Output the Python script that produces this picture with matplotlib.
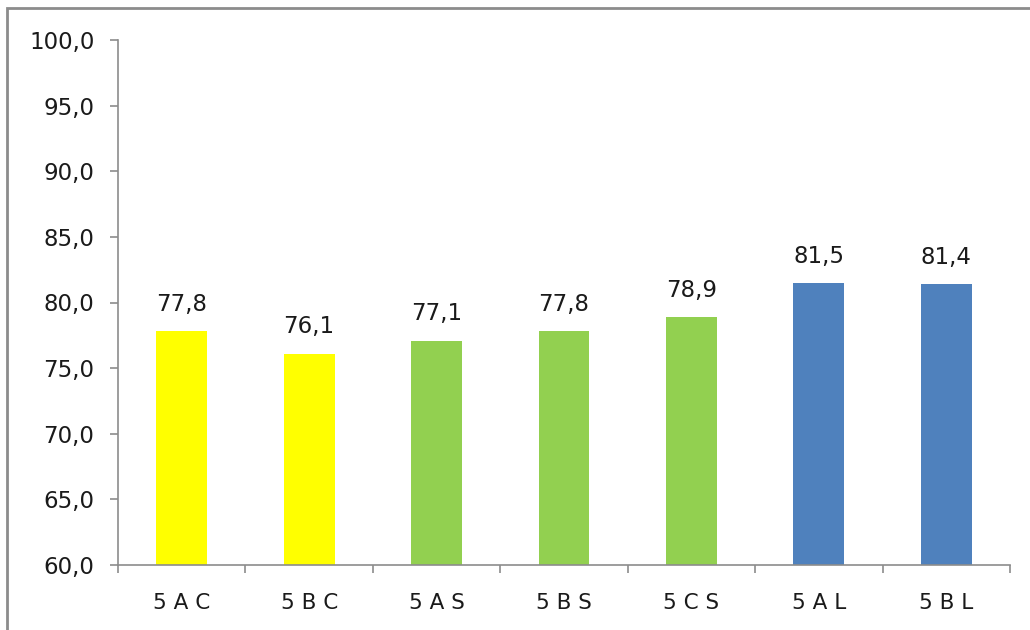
import numpy as np
import matplotlib
matplotlib.use("Agg")
import matplotlib.pyplot as plt
from matplotlib.patches import Rectangle

# Données
categories = ["5 A C", "5 B C", "5 A S", "5 B S", "5 C S", "5 A L", "5 B L"]
valeurs = [77.8, 76.1, 77.1, 77.8, 78.9, 81.5, 81.4]
couleurs = ["#FFFF00", "#FFFF00", "#92D050", "#92D050", "#92D050", "#4F81BD", "#4F81BD"]
yticks = [60, 65, 70, 75, 80, 85, 90, 95, 100]

plt.rcParams['font.family'] = ['DejaVu Sans']

fig = plt.figure(figsize=(10.3, 6.3), dpi=100)
ax = fig.add_axes([118 / 1030, 1 - 565 / 630, (1010 - 118) / 1030, (565 - 40) / 630])

x = np.arange(len(categories))
ax.bar(x, [v - 60 for v in valeurs], bottom=60, width=0.4, color=couleurs)

# Etiquettes de valeur
for xi, v in zip(x, valeurs):
    ax.annotate(f"{v:.1f}".replace(".", ","), (xi, v), xytext=(0, 11),
                textcoords="offset points", ha="center", va="bottom",
                fontsize=16.5, color="#1a1a1a")

ax.set_xlim(-0.5, len(categories) - 0.5)
ax.set_ylim(60, 100)
ax.set_yticks(yticks)
ax.set_yticklabels([f"{t:.1f}".replace(".", ",") for t in yticks])
ax.set_xticks(x)
ax.set_xticklabels(categories)
ax.set_xticks(np.arange(len(categories) + 1) - 0.5, minor=True)

gris = "#8c8c8c"
for s in ["top", "right"]:
    ax.spines[s].set_visible(False)
for s in ["left", "bottom"]:
    ax.spines[s].set_color(gris)
    ax.spines[s].set_linewidth(1.2)

ax.tick_params(axis="y", direction="out", length=6, width=1.2, color=gris,
               labelsize=16.5, pad=11, labelcolor="#1a1a1a")
ax.tick_params(axis="x", which="major", length=0, labelsize=15.5, pad=20,
               labelcolor="#1a1a1a")
ax.tick_params(axis="x", which="minor", direction="out", length=6, width=1.2,
               color=gris)

# Cadre
fig.patches.append(Rectangle((7 / 1030, -0.05), 1.1, 1 - 8 / 630 + 0.05,
                             transform=fig.transFigure, fill=False,
                             edgecolor=gris, linewidth=2))

fig.savefig("out.png", dpi=100)
